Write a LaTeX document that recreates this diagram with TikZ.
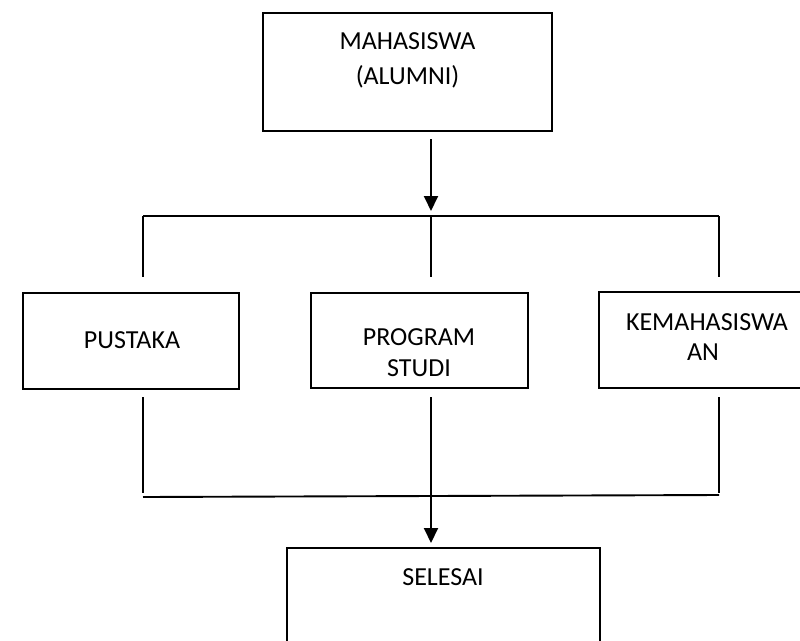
\documentclass[tikz,border=0pt]{standalone}
\usepackage{fontspec}
\setmainfont{Carlito}
\usetikzlibrary{arrows.meta}
\begin{document}
\begin{tikzpicture}[x=1pt,y=-1pt,
  box/.style={draw=black,line width=1.4pt,inner sep=0pt,fill=none},
  lbl/.style={anchor=base,inner sep=0pt,font=\fontsize{26}{31}\selectfont},
  bus/.style={line width=1.9pt},
  tap/.style={line width=1.3pt},
  flow/.style={line width=1.9pt,-{Triangle[length=15pt,width=14pt]}}]
\useasboundingbox (0,0) rectangle (800,640);
\clip (0,0) rectangle (800,640);

% boxes
\node[box,minimum width=289pt,minimum height=118pt] (mhs) at (407.5,72) {};
\node[box,minimum width=216pt,minimum height=96pt] (pustaka) at (131,341) {};
\node[box,minimum width=217pt,minimum height=95pt] (prodi) at (419.5,340.5) {};
\node[box,minimum width=216pt,minimum height=96pt] (kmhs) at (707,340) {};
\node[box,minimum width=313pt,minimum height=122pt] (selesai) at (443.5,609) {};

% labels
\node[lbl] (t1) at (407.5,49.4) {MAHASISWA};
\node[lbl] (t2) at (407.5,84.4) {(ALUMNI)};
\node[lbl] (t3) at (132,348.4) {PUSTAKA};
\node[lbl] (t4) at (419,345.4) {PROGRAM};
\node[lbl] (t5) at (419,376.4) {STUDI};
\node[lbl] (t6) at (707,330.4) {KEMAHASISWA};
\node[lbl] (t7) at (703,360.4) {AN};
\node[lbl] (t8) at (443,585.4) {SELESAI};

% connector points
\coordinate (a1s) at (431,139);
\coordinate (a1e) at (431,211);
\coordinate (uL) at (143,216);
\coordinate (uM) at (431,216);
\coordinate (uR) at (719,216);
\coordinate (uLd) at (143,277);
\coordinate (uMd) at (431,277);
\coordinate (uRd) at (719,277);
\coordinate (lLu) at (143,397);
\coordinate (lMu) at (431,397);
\coordinate (lRu) at (719,397);
\coordinate (lLd) at (143,493);
\coordinate (lMd) at (431,496);
\coordinate (lRd) at (719,493);
\coordinate (bL) at (143,497);
\coordinate (bR) at (719,495);
\coordinate (a2e) at (431,543);

% upper branch
\draw[flow] (a1s) -- (a1e);
\draw[bus] (uL) -- (uR);
\draw[tap] (uL) -- (uLd);
\draw[tap] (uM) -- (uMd);
\draw[tap] (uR) -- (uRd);

% lower merge
\draw[tap] (lLu) -- (lLd);
\draw[tap] (lMu) -- (lMd);
\draw[tap] (lRu) -- (lRd);
\draw[bus] (bL) -- (bR);
\draw[flow] (lMd) -- (a2e);
\end{tikzpicture}
\end{document}
